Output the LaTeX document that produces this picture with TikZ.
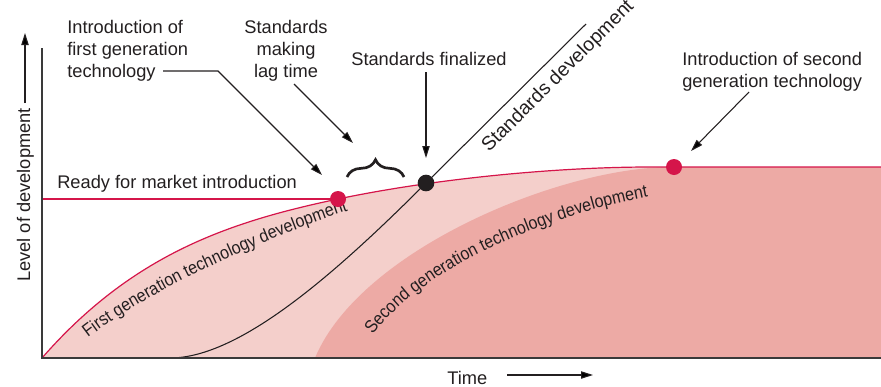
\documentclass[tikz,border=0pt]{standalone}
\usepackage{fontspec}
\setmainfont{Liberation Sans}
\newfontfamily\narrowfont[FakeStretch=0.9]{Liberation Sans}
\usetikzlibrary{arrows.meta,decorations.pathreplacing,decorations.text}
\definecolor{ink}{HTML}{231F20}
\definecolor{redline}{HTML}{D5154A}
\definecolor{pinklight}{HTML}{F4CFCB}
\definecolor{pinkdark}{HTML}{EDAAA5}
\definecolor{axisgray}{HTML}{3A3A3A}
\begin{document}
\begin{tikzpicture}[x=0.75pt,y=-0.75pt,
  lbl/.style={font=\fontsize{13.7}{16.5}\selectfont, text=ink, inner sep=0pt},
  arr/.style={draw=ink, line width=0.8pt, -{Triangle[length=9pt,width=5.5pt]}},
  reddot/.style={circle, fill=redline, minimum size=12pt, inner sep=0pt},
  blackdot/.style={circle, fill=ink, minimum size=12.5pt, inner sep=0pt},
  redcurve/.style={draw=redline, line width=0.9pt},
  curvetext/.style={decorate, decoration={text along path, text align=left, text color=ink, text={#1}}},
]
\useasboundingbox (0,0) rectangle (881,386);
% regions
\fill[pinklight] (42,358) .. controls (132,255) and (228,222) .. (338,199)
  .. controls (438,178) and (560,167) .. (650,167) -- (881,167) -- (881,358) -- cycle;
\fill[pinkdark] (315,358) .. controls (360,250) and (560,167) .. (672,167)
  -- (881,167) -- (881,358) -- cycle;
% first generation curve and market line
\draw[redcurve] (42,199) -- (338,199);
\draw[redcurve] (42,358) .. controls (132,255) and (228,222) .. (338,199)
  .. controls (438,178) and (560,167) .. (650,167) -- (881,167);
% standards curve
\draw[ink, line width=0.8pt] (170,358) .. controls (240,358) and (336,273) .. (426,183) -- (586,24);
% axes
\draw[axisgray, line width=1.1pt] (42,48) -- (42,358) -- (881,358);
% curved labels
\path[curvetext={|\narrowfont\fontsize{13.4}{15}\selectfont|First generation technology development}]
  (88,338) .. controls (150,290) and (262,238) .. (368,204);
\path[curvetext={|\narrowfont\fontsize{13.4}{15}\selectfont|Second generation technology development}]
  (373,335) .. controls (420,270) and (545,213) .. (668,193);
% dots
\node[reddot] (d1) at (338,199) {};
\node[blackdot] (d2) at (426,183) {};
\node[reddot] (d3) at (674,167) {};
% labels
\node[lbl, anchor=north west, align=left] (l1) at (67,20) {Introduction of\\first generation\\technology};
\node[lbl, anchor=north, align=center] (l2) at (286,20) {Standards\\making\\lag time};
\node[lbl, anchor=base] (l3) at (429,65) {Standards finalized};
\node[lbl, anchor=north west, align=left] (l4) at (682,52) {Introduction of second\\generation technology};
\node[lbl, anchor=base west] (l5) at (57,188) {Ready for market introduction};
\node[lbl, anchor=base west] (l6) at (447,384) {Time};
\node[lbl, anchor=base, rotate=90] (l7) at (30,195) {Level of development};
\node[lbl, font=\fontsize{14.6}{17}\selectfont, anchor=base west, rotate=45] (l8) at (489,153) {Standards development};
% arrow end points
\coordinate (a1s) at (163,71);
\coordinate (a1k) at (218,71);
\coordinate (a1e) at (322,175);
\coordinate (a2s) at (294,84);
\coordinate (a2e) at (353,143);
\coordinate (a3s) at (426,72);
\coordinate (a3e) at (426,158);
\coordinate (a4s) at (749,92);
\coordinate (a4e) at (691,151);
\coordinate (ts) at (507,375);
\coordinate (te) at (593,375);
\coordinate (ys) at (25,103);
\coordinate (ye) at (25,33);
\coordinate (bl) at (347,177);
\coordinate (br) at (404,177);
% arrows
\draw[arr] (a1s) -- (a1k) -- (a1e);
\draw[arr] (a2s) -- (a2e);
\draw[arr] (a3s) -- (a3e);
\draw[arr] (a4s) -- (a4e);
\draw[arr] (ts) -- (te);
\draw[arr] (ys) -- (ye);
% brace
\draw[ink, line width=2pt, decorate, decoration={brace, amplitude=13pt}] (bl) -- (br);
\end{tikzpicture}
\end{document}
